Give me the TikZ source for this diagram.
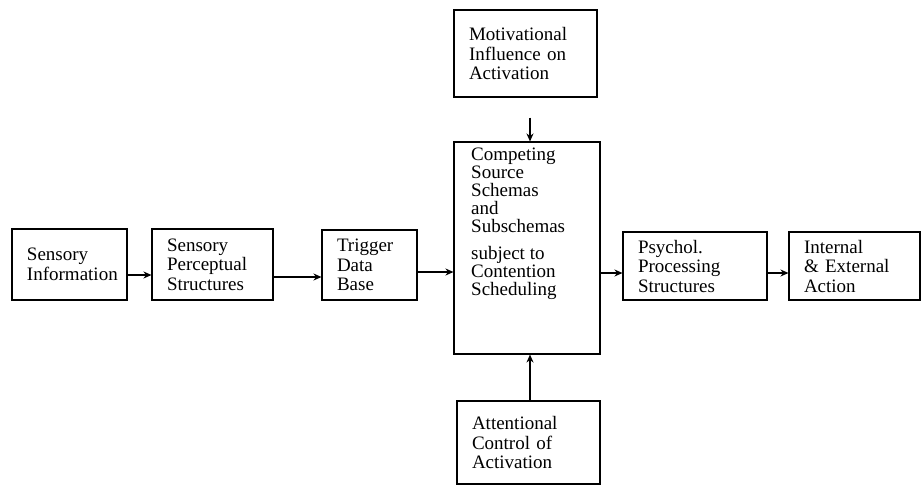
\documentclass[tikz,border=0pt]{standalone}
\usepackage{fontspec}
\setmainfont{Liberation Serif}
\usetikzlibrary{arrows.meta}
\tikzset{
  box/.style={draw, line width=1.1pt, align=left, inner xsep=15pt, inner ysep=0pt,
    font=\fontsize{19}{19.5}\selectfont},
  arr/.style={line width=1.1pt, -{Stealth[length=8pt,width=7pt]}},
  txt/.style={align=left, inner sep=0pt, anchor=north west, font=\fontsize{19}{18}\selectfont}
}
\begin{document}
\begin{tikzpicture}[x=1pt, y={(0pt,-1pt)}]
\useasboundingbox[fill=white] (0,0) rectangle (922,493);
\node[box, text width=85pt, minimum height=71pt] (info) at (69.5,264.5) {Sensory\\Information};
\node[box, text width=91pt, minimum height=71pt] (sp) at (212.5,264.5) {Sensory\\Perceptual\\Structures};
\node[box, text width=65pt, minimum height=70pt] (trig) at (369.5,265) {Trigger\\Data\\Base};
\node[box, text width=116pt, minimum height=212pt] (comp) at (527,248) {};
\node[txt] (comptext) at (471,148) {Competing\\Source\\Schemas\\and\\Subschemas\\[9pt]subject to\\Contention\\Scheduling};
\node[box, text width=113pt, minimum height=87pt] (mot) at (525.5,53.5) {Motivational\\Influence on\\Activation};
\node[box, text width=113pt, minimum height=83pt] (att) at (528.5,442.5) {Attentional\\Control of\\Activation};
\node[box, text width=114pt, minimum height=68pt] (psy) at (695,266) {Psychol.\\Processing\\Structures};
\node[box, text width=101pt, minimum height=68pt] (int) at (854.5,266) {Internal\\\& External\\Action};
\coordinate (r1) at (0,275);
\coordinate (r2) at (0,277);
\coordinate (r3) at (0,272);
\coordinate (r4) at (0,273);
\coordinate (ct) at ([xshift=3pt]comp.north);
\coordinate (cb) at ([xshift=3pt]comp.south);
\draw[arr] (info.east |- r1) -- (sp.west |- r1);
\draw[arr] (sp.east |- r2) -- (trig.west |- r2);
\draw[arr] (trig.east |- r3) -- (comp.west |- r3);
\draw[arr] (comp.east |- r4) -- (psy.west |- r4);
\draw[arr] (psy.east |- r4) -- (int.west |- r4);
\draw[arr, shorten <=20pt] (mot.south -| ct) -- (ct);
\draw[arr] (att.north -| cb) -- (cb);
\end{tikzpicture}
\end{document}
